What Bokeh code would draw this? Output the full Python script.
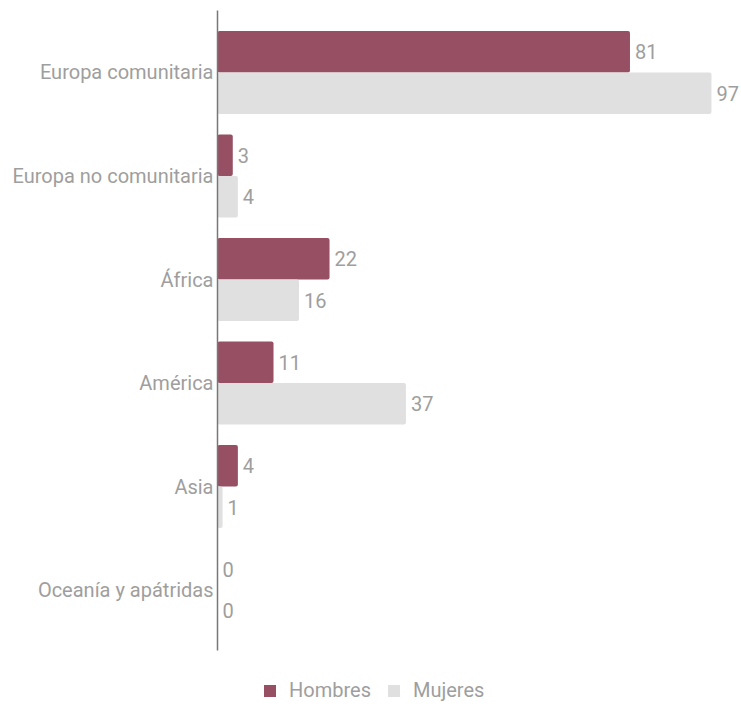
from bokeh.plotting import figure
from bokeh.models import ColumnDataSource, Range1d, Legend, LegendItem, LabelSet, FixedTicker
from bokeh.core.properties import value
from bokeh.embed import file_html
from bokeh.resources import INLINE

categories = ["Europa comunitaria", "Europa no comunitaria", "África", "América", "Asia", "Oceanía y apátridas"]
hombres = [81, 3, 22, 11, 4, 0]
mujeres = [97, 4, 16, 37, 1, 0]

FONT = "Roboto"
FS = "20px"
LABEL_COLOR = "#9e9e9e"

n = len(categories)
pos = [n - 1 - i for i in range(n)]  # top category highest

src = ColumnDataSource(data=dict(
    pos_h=[y + 0.2 for y in pos],
    pos_m=[y - 0.2 for y in pos],
    hombres=hombres,
    mujeres=mujeres,
    hombres_txt=[str(v) for v in hombres],
    mujeres_txt=[str(v) for v in mujeres],
))

p = figure(
    width=741, height=707,
    y_range=Range1d(-1.135, 5.599),
    x_range=Range1d(0, 102.9),
    output_backend="svg", toolbar_location=None,
    min_border_left=217, min_border_right=0, min_border_top=10, min_border_bottom=0,
)
p.outline_line_color = None
p.grid.grid_line_color = None
p.xaxis.visible = False

r1 = p.hbar(y="pos_h", right="hombres", left=0, height=0.4,
            source=src, fill_color="#964f63", line_color=None, border_radius=2)
r2 = p.hbar(y="pos_m", right="mujeres", left=0, height=0.4,
            source=src, fill_color="#e0e0e0", line_color=None, border_radius=2)

for col, ycol in (("hombres", "pos_h"), ("mujeres", "pos_m")):
    lbl = LabelSet(x=col, y=ycol, text=col + "_txt", source=src,
                   x_offset=5, text_baseline="middle", text_align="left",
                   text_font=value(FONT), text_font_size=value(FS), text_color=value(LABEL_COLOR))
    p.add_layout(lbl)

ax = p.yaxis[0]
ax.ticker = FixedTicker(ticks=pos)
ax.major_label_overrides = {y: c for y, c in zip(pos, categories)}
ax.bounds = (-0.585, 5.599)
ax.axis_line_color = "#777777"
ax.axis_line_width = 1.5
ax.major_tick_line_color = None
ax.minor_tick_line_color = None
ax.major_tick_out = 0
ax.major_tick_in = 0
ax.major_label_standoff = 4
ax.major_label_text_font = FONT
ax.major_label_text_font_size = FS
ax.major_label_text_color = LABEL_COLOR

legend = Legend(items=[LegendItem(label="Hombres", renderers=[r1]),
                       LegendItem(label="Mujeres", renderers=[r2])],
                orientation="horizontal", location=(45, 5),
                label_text_font=FONT, label_text_font_size=FS, label_text_color=LABEL_COLOR,
                glyph_width=15, glyph_height=15, label_height=15, label_standoff=12, spacing=15,
                border_line_color=None, background_fill_alpha=0, margin=0, padding=0)
p.add_layout(legend)

open("out.html", "w").write(file_html(p, INLINE))
